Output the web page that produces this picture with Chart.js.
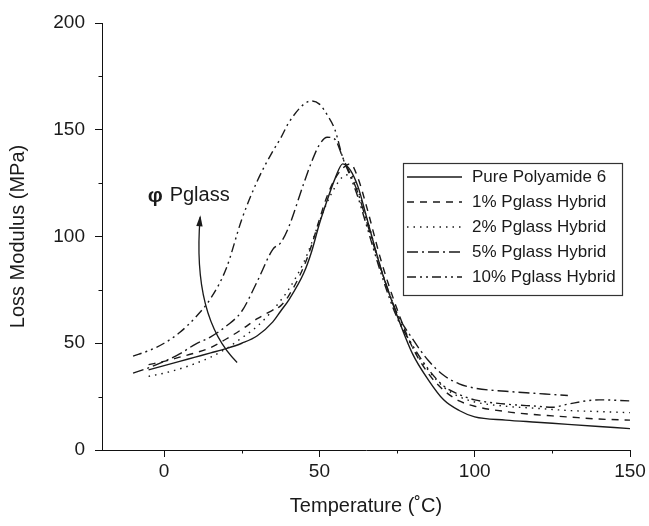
<!DOCTYPE html>
<html>
<head>
<meta charset="utf-8">
<script src="https://cdn.jsdelivr.net/npm/chart.js@4.4.1/dist/chart.umd.min.js"></script>
<style>
  html, body { margin: 0; padding: 0; background: #fff; }
  canvas { display: block; }
</style>
</head>
<body>
<canvas id="graficoLoss" width="649" height="526"></canvas>
<script>
/* loss modulus x temperatura */

const temperaturas = [-10, -5, 0, 5, 10, 15, 20, 25, 30, 35, 37.5, 40, 45, 47.5, 50, 52.5, 55, 57.5, 60, 62.5, 65, 70, 75, 80, 85, 90, 95, 100, 110, 120, 125, 130, 140, 150];

const lossPA6 = [null, 37.5, 39.5, 41.5, 43.5, 45.5, 47.5, 50, 53.5, 60, 65, 70, 83, 93, 106, 117, 127, 134, 131, 123, 110, 84, 63, 45, 33, 23.5, 18.5, 15.5, 14, 13, 12.5, 12, 11, 10];
const loss1 = [null, 40, 41.5, 43.5, 45.5, 48, 52, 56.5, 61.5, 65.5, 67.5, 72, 86, 96, 108, 119, 127, 132, 134, 127, 115, 88, 66, 48, 36, 28, 23, 20.5, 18, 16.5, 16, 15.5, 14.5, 14];
const loss2 = [null, 34.5, 36, 38, 40.5, 43.5, 47.5, 52.5, 58, 65.5, 70, 75, 88, 97, 107, 116, 123, 128, 129, 121, 110, 84, 64, 48, 37.5, 29.5, 25, 22.5, 20.5, 19.5, 19, 18.5, 18, 17.5];
const loss5 = [36, 38.5, 41.5, 45, 49.5, 53, 58, 65, 79, 94, 97, 104, 125, 135, 143, 146.5, 145.5, 137, 129, 120, 108, 84, 64, 52, 42, 35, 31, 29, 27.5, 26.5, 26, 25.5, null, null];
const loss10 = [44, 46.5, 50, 55, 62, 71, 85, 108, 126, 140, 146, 153, 162, 163.5, 162, 157, 150, 137, 128, 118, 106, 82, 62, 49, 38, 30, 26, 23.5, 21.5, 20.5, 20, 21.5, 23.5, 23];

const rotulos = ["Pure Polyamide 6", "1% Pglass Hybrid", "2% Pglass Hybrid", "5% Pglass Hybrid", "10% Pglass Hybrid"];

const ticksX = [0, 50, 100, 150];
const ticksXMenores = [25, 75, 125];
const ticksY = [0, 50, 100, 150, 200];
const ticksYMenores = [25, 75, 125, 175];

// seta curva "φ Pglass" (coordenadas de dados)
const setaInicio = [23.5, 41];
const setaControle = [9, 62];
const setaFim = [11.6, 109];
const simboloAnotacao = "φ";
const textoAnotacao = "Pglass";
const posTextoAnotacao = [-5.3, 119.4];

(function () {
  const FONTE = "'Liberation Sans', Arial, Helvetica, sans-serif";
  const COR = "#1a1a1a";
  Chart.defaults.font.family = FONTE;
  Chart.defaults.color = COR;

  const estilos = [
    [],
    [7, 6],
    [1.5, 5],
    [11, 4, 2, 4],
    [9, 4, 2, 4, 2, 4]
  ];
  const series = [lossPA6, loss1, loss2, loss5, loss10];

  const datasets = series.map((valores, i) => ({
    label: rotulos[i],
    data: temperaturas.map((t, k) => ({ x: t, y: valores[k] })),
    borderColor: COR,
    borderWidth: 1.4,
    borderDash: estilos[i],
    pointRadius: 0,
    fill: false,
    cubicInterpolationMode: "monotone"
  }));

  const extras = {
    id: "extras",
    afterDraw(chart) {
      const { ctx, chartArea } = chart;
      const x = chart.scales.x;
      const y = chart.scales.y;
      ctx.save();

      // ticks menores
      ctx.strokeStyle = "#111";
      ctx.lineWidth = 1;
      ticksXMenores.forEach(v => {
        const px = Math.round(x.getPixelForValue(v)) + 0.5;
        ctx.beginPath();
        ctx.moveTo(px, chartArea.bottom);
        ctx.lineTo(px, chartArea.bottom + 3.5);
        ctx.stroke();
      });
      ticksYMenores.forEach(v => {
        const py = Math.round(y.getPixelForValue(v)) + 0.5;
        ctx.beginPath();
        ctx.moveTo(chartArea.left - 3.5, py);
        ctx.lineTo(chartArea.left, py);
        ctx.stroke();
      });

      // seta
      const p0 = [x.getPixelForValue(setaInicio[0]), y.getPixelForValue(setaInicio[1])];
      const p1 = [x.getPixelForValue(setaControle[0]), y.getPixelForValue(setaControle[1])];
      const p2 = [x.getPixelForValue(setaFim[0]), y.getPixelForValue(setaFim[1])];
      ctx.strokeStyle = COR;
      ctx.lineWidth = 1.3;
      ctx.beginPath();
      ctx.moveTo(p0[0], p0[1]);
      ctx.quadraticCurveTo(p1[0], p1[1], p2[0], p2[1]);
      ctx.stroke();
      const ang = Math.atan2(p2[1] - p1[1], p2[0] - p1[0]);
      const comp = 9, larg = 3.2;
      ctx.fillStyle = COR;
      ctx.beginPath();
      ctx.moveTo(p2[0] + Math.cos(ang) * 2, p2[1] + Math.sin(ang) * 2);
      ctx.lineTo(p2[0] - Math.cos(ang) * comp - Math.sin(ang) * larg, p2[1] - Math.sin(ang) * comp + Math.cos(ang) * larg);
      ctx.lineTo(p2[0] - Math.cos(ang) * comp + Math.sin(ang) * larg, p2[1] - Math.sin(ang) * comp - Math.cos(ang) * larg);
      ctx.closePath();
      ctx.fill();

      const tx = x.getPixelForValue(posTextoAnotacao[0]);
      const ty = y.getPixelForValue(posTextoAnotacao[1]);
      ctx.textAlign = "left";
      ctx.textBaseline = "middle";
      ctx.font = "bold 21px " + FONTE;
      ctx.fillText(simboloAnotacao, tx, ty + 1);
      ctx.font = "20px " + FONTE;
      ctx.fillText(textoAnotacao, tx + 22, ty);

      // legenda com moldura
      const caixa = { x: 403.5, y: 163.5, w: 219, h: 132 };
      ctx.strokeStyle = "#333";
      ctx.lineWidth = 1.2;
      ctx.setLineDash([]);
      ctx.strokeRect(caixa.x, caixa.y, caixa.w, caixa.h);
      ctx.font = "17px " + FONTE;
      chart.data.datasets.forEach((ds, i) => {
        const ly = 177 + i * 25;
        ctx.strokeStyle = COR;
        ctx.lineWidth = 1.4;
        ctx.setLineDash(ds.borderDash);
        ctx.beginPath();
        ctx.moveTo(407, ly);
        ctx.lineTo(462, ly);
        ctx.stroke();
        ctx.setLineDash([]);
        ctx.fillText(ds.label, 472, ly);
      });

      ctx.restore();
    }
  };

  new Chart(document.getElementById("graficoLoss"), {
    type: "line",
    data: { datasets },
    options: {
      responsive: false,
      animation: false,
      layout: { padding: { top: 23, right: 19, left: 0, bottom: 0 } },
      plugins: { legend: { display: false }, tooltip: { enabled: false } },
      scales: {
        x: {
          type: "linear",
          min: -20,
          max: 150,
          afterBuildTicks: s => { s.ticks = ticksX.map(v => ({ value: v })); },
          afterFit: s => { s.height = 76; },
          grid: { drawOnChartArea: false, drawTicks: true, tickLength: 7, tickColor: "#111" },
          border: { display: true, color: "#111", width: 1 },
          ticks: { font: { size: 19 }, color: COR, padding: 3, maxRotation: 0 },
          title: { display: true, text: "Temperature (˚C)", font: { size: 20 }, color: COR, padding: { top: 0, bottom: 8 } }
        },
        y: {
          min: 0,
          max: 200,
          afterBuildTicks: s => { s.ticks = ticksY.map(v => ({ value: v })); },
          afterFit: s => { s.width = 102; },
          grid: { drawOnChartArea: false, drawTicks: true, tickLength: 7, tickColor: "#111" },
          border: { display: true, color: "#111", width: 1 },
          ticks: { font: { size: 19 }, color: COR, padding: 10 },
          title: { display: true, text: "Loss Modulus (MPa)", font: { size: 20 }, color: COR, padding: { top: 6, bottom: 0 } }
        }
      }
    },
    plugins: [extras]
  });
})();
</script>
</body>
</html>
